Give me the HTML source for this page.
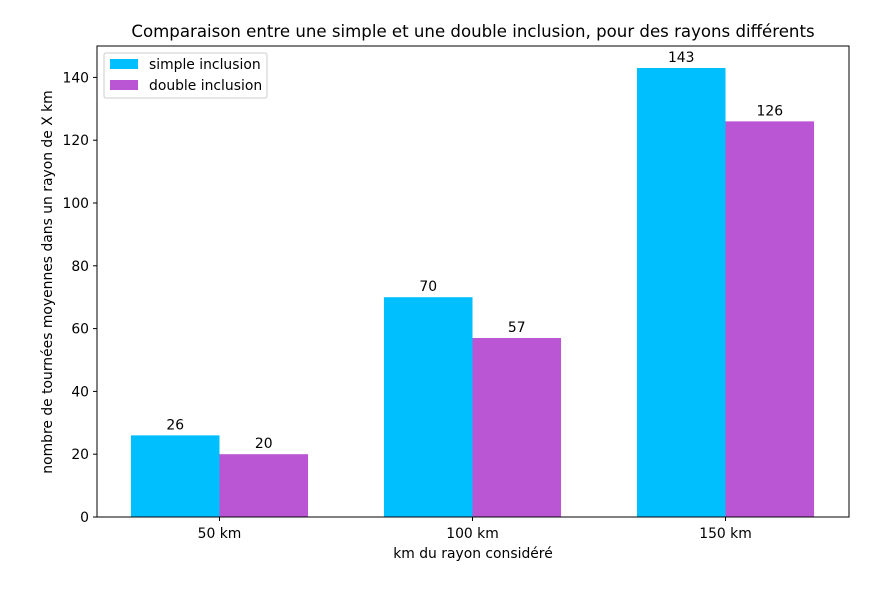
<!DOCTYPE html>
<html><head><meta charset="utf-8"><style>
body{margin:0;background:#fff;font-family:"Liberation Sans","DejaVu Sans",sans-serif;}
text{font-family:"DejaVu Sans","Liberation Sans",sans-serif;}
</style></head><body>
<svg id="chart" width="869" height="590" xmlns="http://www.w3.org/2000/svg">
<rect width="869" height="590" fill="#fff"/>
<text x="473" y="37" font-size="16.6" text-anchor="middle">Comparaison entre une simple et une double inclusion, pour des rayons différents</text>
<g id="bars"></g>
<g id="axes"></g>
<text x="473" y="558" font-size="13.9" text-anchor="middle">km du rayon considéré</text>
<text transform="translate(52,282) rotate(-90)" font-size="13.9" text-anchor="middle">nombre de tournées moyennes dans un rayon de X km</text>
<g>
<rect x="104" y="53" width="163" height="45" fill="#fff" stroke="#ccc" rx="2"/>
<g><rect x="110" y="59" width="28" height="10" fill="#00bfff"/><text x="149" y="69" font-size="13.9">simple inclusion</text></g>
<g><rect x="110" y="80" width="28" height="10" fill="#ba55d3"/><text x="149" y="90" font-size="13.9">double inclusion</text></g>
</g>
</svg>
<script>
const categories=["50 km","100 km","150 km"];
const simpleValues=[26,70,143];
const doubleValues=[20,57,126];
const yTicks=[0,20,40,60,80,100,120,140];
const NS="http://www.w3.org/2000/svg";
const L=97,R=849,T=46,B=517,yMax=150;
const xs=i=>219.5+i*253;
const ys=v=>B-(v/yMax)*(B-T);
const bw=0.35*253;
const bars=document.getElementById('bars'),axes=document.getElementById('axes');
function mk(tag,attrs,parent){const e=document.createElementNS(NS,tag);for(const k in attrs)e.setAttribute(k,attrs[k]);parent.appendChild(e);return e;}
categories.forEach((c,i)=>{
  [[simpleValues,'#00bfff',-1,'simple'],[doubleValues,'#ba55d3',0,'double']].forEach(([arr,col,off,nm])=>{
    const x=xs(i)+off*bw, v=arr[i];
    const r=mk('rect',{x:x,y:ys(v),width:bw,height:B-ys(v),fill:col},bars);
    
    
    const t=mk('text',{x:x+bw/2,y:ys(v)-6,'font-size':13.9,'text-anchor':'middle'},bars);
    t.textContent=v;
    
    
  });
  mk('line',{x1:xs(i),x2:xs(i),y1:B,y2:B+4,stroke:'#000'},axes);
  const t=mk('text',{x:xs(i),y:B+21,'font-size':13.9,'text-anchor':'middle'},axes);
  t.textContent=c;
  
  
});
yTicks.forEach(v=>{
  mk('line',{x1:L-4,x2:L,y1:ys(v),y2:ys(v),stroke:'#000'},axes);
  const t=mk('text',{x:L-8,y:ys(v)+5,'font-size':13.9,'text-anchor':'end'},axes);
  t.textContent=v;
  
  
});
const f=mk('rect',{x:L,y:T,width:R-L,height:B-T,fill:'none',stroke:'#000'},axes);


</script>
</body></html>
